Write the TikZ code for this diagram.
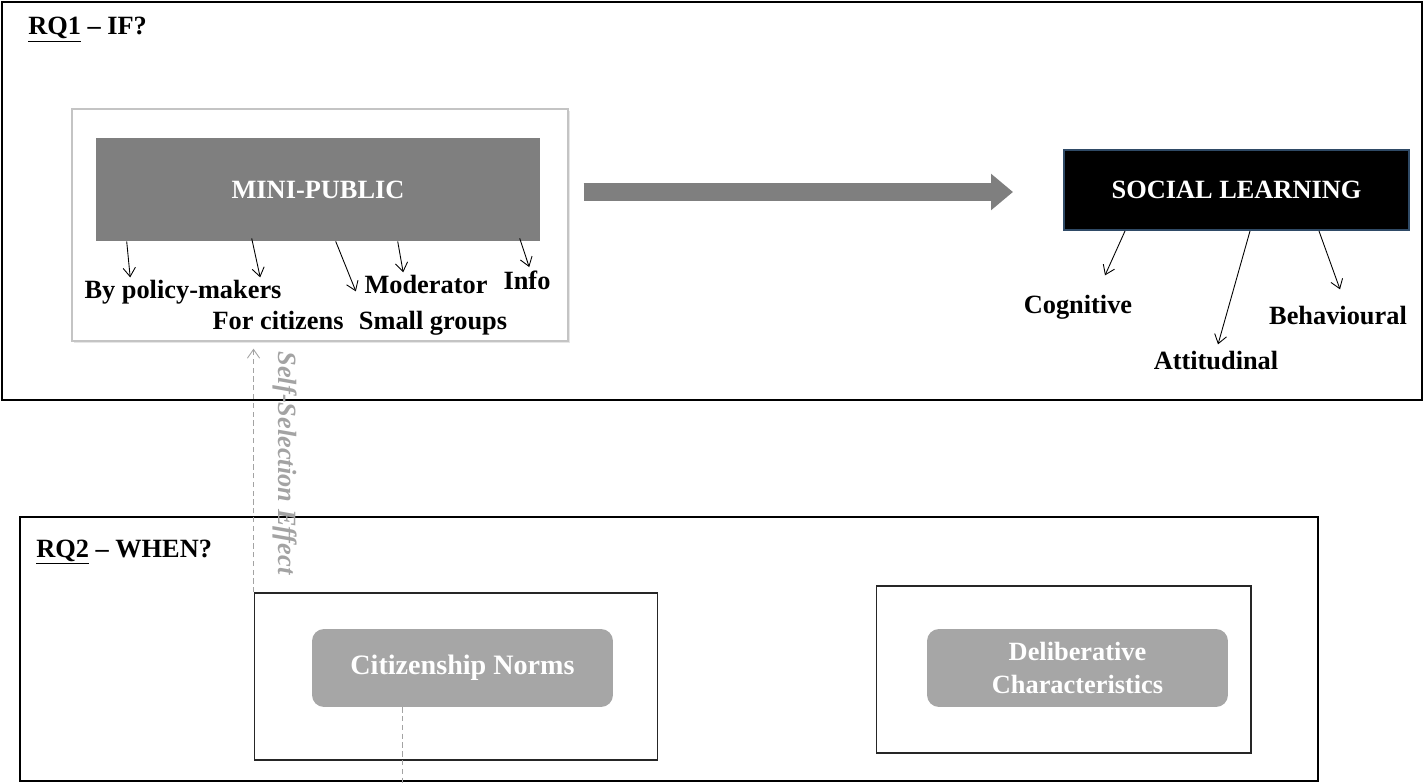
\documentclass[tikz,border=0pt]{standalone}
\usepackage{fontspec}
\setmainfont{Liberation Serif}
\usetikzlibrary{calc,arrows.meta,shadows}
\definecolor{darkgr}{HTML}{7F7F7F}
\definecolor{lightgr}{HTML}{A6A6A6}
\definecolor{framegr}{HTML}{C4C4C4}
\definecolor{navyedge}{HTML}{2F4A66}
\definecolor{selfgr}{HTML}{A3A3A3}

\begin{document}
\begin{tikzpicture}[x=0.02cm,y=-0.02cm,
  txt/.style={font=\fontsize{15}{17}\selectfont\bfseries},
  lbl/.style={txt,inner sep=0pt,anchor=base},
  rqframe/.style={draw=black,line width=1.1pt},
  boxframe/.style={draw=black!85,line width=0.6pt},
  greybox/.style={txt,fill=lightgr,text=white,rounded corners=0.24cm,
    minimum width=6.02cm,minimum height=1.56cm,align=center,inner sep=0pt},
  subarrow/.style={-{Straight Barb[length=5pt,width=7pt]},line width=0.5pt},
  bigarrow/.style={darkgr,line width=10pt,-{Triangle[length=12.5pt,width=20pt]}},
  dashline/.style={selfgr,line width=0.5pt,dash pattern=on 3pt off 2pt}]
\useasboundingbox (0,0) rectangle (1426,783);

% RQ1
\draw[rqframe] (2,2) rectangle (1422,400);
\node[lbl,anchor=base west] (rqone) at (28,35) {\underline{RQ1} – IF?};

\node[draw=framegr,fill=white,line width=0.8pt,minimum width=9.92cm,minimum height=4.64cm,
  drop shadow={opacity=0.2,shadow xshift=1.2pt,shadow yshift=-1.2pt}] (mpframe) at (320,225) {};
\node[txt,fill=darkgr,text=white,minimum width=8.88cm,minimum height=2.06cm] (mp) at (318,189.5) {MINI-PUBLIC};

\node[txt,fill=black,draw=navyedge,line width=1.2pt,text=white,minimum width=6.9cm,minimum height=1.6cm] (social) at (1236.5,190) {SOCIAL LEARNING};

\draw[bigarrow] ($(mpframe.east |- social.west)+(15,2)$) -- ($(social.west)+(-50,2)$);

% mini-public features
\node[lbl] (bypm) at (183,299) {By policy-makers};
\node[lbl] (forcit) at (278,330) {For citizens};
\node[lbl] (moder) at (426,294) {Moderator};
\node[lbl] (info) at (527,290) {Info};
\node[lbl] (smallgr) at (433,330) {Small groups};

\draw[subarrow] ($(mp.south west)+(31,0)$) -- ($(bypm.north west)+(46,-3)$);
\draw[subarrow] ($(mp.south west)+(156,-3)$) -- ($(bypm.north west)+(176,-3)$);
\draw[subarrow] ($(mp.south west)+(240,0)$) -- ($(forcit.north east)+(12,-20)$);
\draw[subarrow] ($(mp.south west)+(302,0)$) -- ($(moder.north west)+(39,-3)$);
\draw[subarrow] ($(mp.south west)+(424,-3)$) -- ($(info.north west)+(26,-4)$);

% social learning types
\node[lbl] (cogn) at (1078,314) {Cognitive};
\node[lbl] (attit) at (1216,370) {Attitudinal};
\node[lbl] (behav) at (1338,325) {Behavioural};

\draw[subarrow] ($(social.south west)+(62,0)$) -- ($(cogn.north)+(27,-20)$);
\draw[subarrow] ($(social.south west)+(187,0)$) -- ($(attit.north)+(2,-7)$);
\draw[subarrow] ($(social.south west)+(256,0)$) -- ($(behav.north)+(2,-17)$);

% RQ2
\draw[rqframe] (20,517) rectangle (1318,781);
\node[lbl,anchor=base west] (rqtwo) at (36,557) {\underline{RQ2} – WHEN?};

\node[boxframe,minimum width=8.08cm,minimum height=3.34cm] (cnframe) at (456,676.5) {};
\node[greybox,font=\fontsize{16}{18}\selectfont\bfseries] (cn) at (462.5,668) {Citizenship Norms};

\node[boxframe,minimum width=7.5cm,minimum height=3.34cm] (dcframe) at (1063.5,669.5) {};
\node[greybox] (dc) at (1077.5,668) {Deliberative\\[2pt]Characteristics};

\draw[dashline,-{Straight Barb[length=5pt,width=7pt]}] (cnframe.north west) -- ($(mpframe.south -| cnframe.west)+(0,7)$);
\node[txt,font=\fontsize{15}{17}\selectfont\bfseries\itshape,text=selfgr,rotate=-90] (selfsel) at (285,463) {Self-Selection Effect};

\coordinate (cnout) at (402,783);
\draw[dashline] (cn.south -| cnout) -- (cnout);
\end{tikzpicture}
\end{document}
